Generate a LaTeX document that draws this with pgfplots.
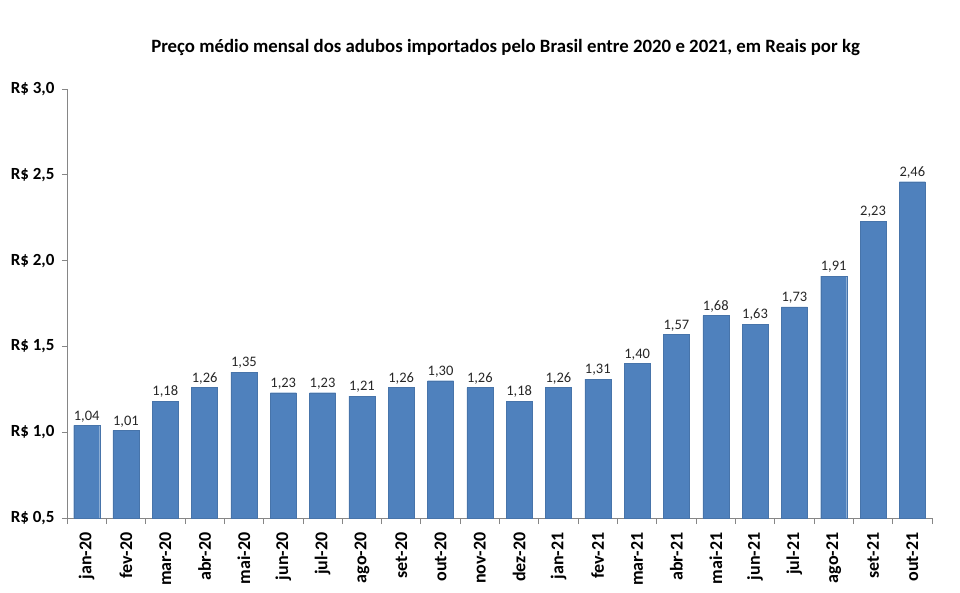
\documentclass[border=0pt]{standalone}
\usepackage{pgfplots}
\pgfplotsset{compat=1.18}
\usepackage{fontspec}
\setmainfont{Carlito}
\definecolor{barblue}{HTML}{4F81BD}
\definecolor{axgray}{HTML}{868686}
\begin{document}
\begin{tikzpicture}
\useasboundingbox (-67bp,-75bp) rectangle (893bp,518bp);
\begin{axis}[
  scale only axis,
  width=865bp, height=429bp,
  xmin=-0.5, xmax=21.5,
  ymin=0.5, ymax=3.0,
  axis x line*=bottom, axis y line*=left,
  axis line style={axgray, line width=0.8pt},
  ytick={0.5,1.0,1.5,2.0,2.5,3.0},
  yticklabels={{R\$ 0,5},{R\$ 1,0},{R\$ 1,5},{R\$ 2,0},{R\$ 2,5},{R\$ 3,0}},
  yticklabel style={font=\fontsize{17bp}{19bp}\selectfont\bfseries, xshift=-4bp},
  xtick={0,...,21},
  xticklabels={jan-20,fev-20,mar-20,abr-20,mai-20,jun-20,jul-20,ago-20,set-20,out-20,nov-20,dez-20,jan-21,fev-21,mar-21,abr-21,mai-21,jun-21,jul-21,ago-21,set-21,out-21},
  xticklabel style={font=\fontsize{18bp}{20bp}\selectfont\bfseries, rotate=90, anchor=east, xshift=-6bp},
  minor xtick={-0.5,0.5,...,21.5},
  major x tick style={draw=none},
  minor x tick style={axgray, line width=0.8pt},
  y tick style={axgray, line width=0.8pt},
  tick align=outside,
  major tick length=5bp, minor tick length=6bp,
  clip=false,
  /pgf/number format/assume math mode=true,
  nodes near coords,
  nodes near coords style={font=\fontsize{14.5bp}{16bp}\selectfont, text=black!85, /pgf/number format/.cd, use comma, fixed, fixed zerofill, precision=2, assume math mode=true},
]
\addplot[ybar, bar width=26bp, fill=barblue, draw=barblue!90!black, line width=0.3pt] coordinates {
(0,1.04) (1,1.01) (2,1.18) (3,1.26) (4,1.35) (5,1.23) (6,1.23) (7,1.21) (8,1.26) (9,1.30) (10,1.26)
(11,1.18) (12,1.26) (13,1.31) (14,1.40) (15,1.57) (16,1.68) (17,1.63) (18,1.73) (19,1.91) (20,2.23) (21,2.46)
};
\node[font=\fontsize{18.8bp}{21bp}\selectfont\bfseries, anchor=center] at (axis description cs:0.507,1.0956) {Preço médio mensal dos adubos importados pelo Brasil entre 2020 e 2021, em Reais por kg};
\end{axis}
\end{tikzpicture}
\end{document}
